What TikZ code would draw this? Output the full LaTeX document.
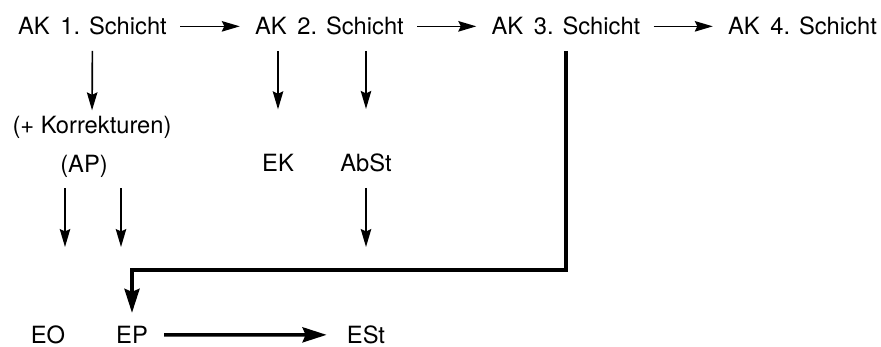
\documentclass[tikz,border=0pt]{standalone}
\usepackage{fontspec}
\setmainfont{TeX Gyre Heros}
\usetikzlibrary{arrows.meta}
\usetikzlibrary{calc}
\tikzstyle{lbl}=[inner sep=0pt, anchor=base, font=\fontsize{13.5pt}{16pt}\selectfont]
\tikzstyle{thinarr}=[line width=0.95pt, -{Stealth[length=0.36cm, width=0.21cm, inset=0.05cm]}]
\tikzstyle{thickarr}=[line width=2pt, -{Stealth[length=0.48cm, width=0.3cm, inset=0.06cm]}]
\tikzset{>=latex}

\begin{document}
\begin{tikzpicture}
\useasboundingbox (0,0) rectangle (17.62,-6.94);

\node[lbl] (ak1) at (1.85,-0.70) {AK\hspace{0.45em}1. Schicht};
\node[lbl] (ak2) at (6.59,-0.70) {AK\hspace{0.45em}2. Schicht};
\node[lbl] (ak3) at (11.32,-0.70) {AK\hspace{0.45em}3. Schicht};
\node[lbl] (ak4) at (16.05,-0.70) {AK\hspace{0.45em}4. Schicht};

\node[lbl] (korr) at (1.84,-2.68) {(+ Korrekturen)};
\node[lbl] (ap) at (1.68,-3.46) {(AP)};
\node[lbl] (ek) at (5.56,-3.44) {EK};
\node[lbl] (abst) at (7.32,-3.44) {AbSt};

\node[lbl] (eo) at (0.96,-6.87) {EO};
\node[lbl] (ep) at (2.64,-6.87) {EP};
\node[lbl] (est) at (7.32,-6.87) {ESt};

\coordinate (eoin) at (1.3,-4.94);
\coordinate (epin) at (2.42,-4.94);
\coordinate (abstout) at (7.32,-4.94);
\coordinate (bend) at (0,-5.4);

% obere Reihe
\draw[thinarr, shorten <=0.26cm, shorten >=0.3cm] (ak1.east) -- (ak2.west);
\draw[thinarr, shorten <=0.26cm, shorten >=0.3cm] (ak2.east) -- (ak3.west);
\draw[thinarr, shorten <=0.26cm, shorten >=0.3cm] (ak3.east) -- (ak4.west);

\draw[thinarr, shorten <=0.3cm, shorten >=0.12cm] (ak1.south) -- (korr.north);
\draw[thinarr, shorten <=0.3cm, shorten >=0.9cm] (ek |- ak2.south) -- (ek.north);
\draw[thinarr, shorten <=0.3cm, shorten >=0.9cm] (abst |- ak2.south) -- (abst.north);

\draw[thinarr, shorten <=0.2cm] (eoin |- ap.south) -- (eoin);
\draw[thinarr, shorten <=0.2cm] (epin |- ap.south) -- (epin);
\draw[thinarr, shorten <=0.3cm] (abst.south) -- (abstout);

% dicke Pfeile
\draw[thickarr, shorten <=0.3cm, shorten >=0.26cm] (ak3.south) -- (ak3.south |- bend) -| (ep.north);
\draw[thickarr, shorten <=0.32cm, shorten >=0.4cm] (ep.east) -- (est.west);

\end{tikzpicture}
\end{document}
